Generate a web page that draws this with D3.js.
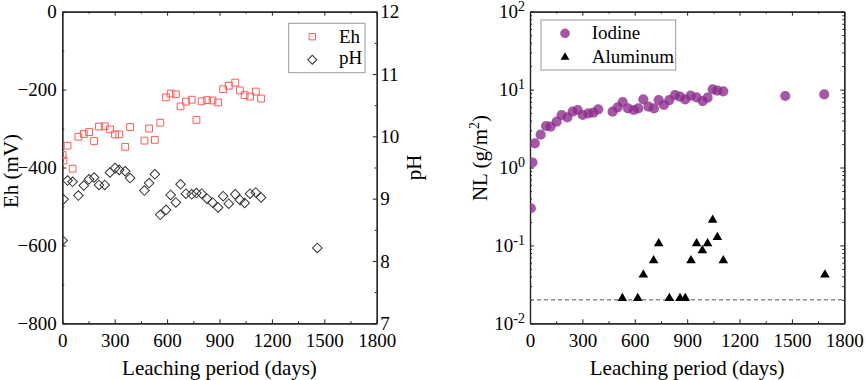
<!DOCTYPE html>
<html>
<head>
<meta charset="utf-8">
<script src="https://d3js.org/d3.v7.min.js"></script>
<style>
  body { margin: 0; background: #fff; }
</style>
</head>
<body>
<div id="chart"></div>
<script>
// ---- data ----
const ehDays = [2, 7, 30, 59, 92, 123, 153, 182, 210, 243, 273, 302, 326, 360, 388, 470, 497, 530, 561,
  594, 620, 650, 677, 708, 741, 768, 798, 829, 860, 892, 921, 953, 990, 1017, 1044, 1075, 1108, 1138];
const ehValues = [-368, -382, -344, -403, -321, -314, -309, -332, -295, -294, -302, -315, -315, -347, -296,
  -331, -300, -329, -285, -220, -210, -212, -243, -231, -226, -278, -230, -227, -228, -233, -199, -190,
  -182, -202, -214, -218, -205, -223];

const phDays = [2, 7, 30, 59, 92, 123, 153, 182, 210, 243, 273, 302, 326, 360, 388, 470, 497, 530, 561,
  594, 620, 650, 677, 708, 741, 768, 798, 829, 860, 892, 921, 953, 990, 1017, 1044, 1075, 1108, 1138, 1460];
const phValues = [8.33, 8.99, 9.29, 9.27, 9.05, 9.21, 9.31, 9.34, 9.22, 9.22, 9.42, 9.49, 9.46, 9.44, 9.33,
  9.13, 9.25, 9.39, 8.74, 8.82, 9.06, 8.94, 9.23, 9.08, 9.07, 9.09, 9.08, 9.0, 8.94, 8.86, 9.04, 8.92,
  9.07, 8.98, 8.93, 9.08, 9.1, 9.02, 8.21];

const iodineDays = [5, 14, 28, 61, 92, 118, 153, 181, 214, 244, 273, 302, 334, 363, 391, 473, 502, 531, 561,
  594, 620, 649, 678, 710, 737, 767, 798, 830, 859, 889, 920, 954, 989, 1017, 1046, 1073, 1107, 1462, 1685];
const iodineValues = [0.30, 1.16, 2.04, 2.64, 3.41, 3.34, 3.87, 4.72, 4.41, 5.21, 5.47, 4.72, 4.96, 5.06,
  5.58, 5.21, 5.92, 6.93, 5.74, 5.47, 5.74, 7.50, 6.04, 5.74, 7.34, 6.34, 7.34, 8.52, 8.11, 7.50, 8.36,
  7.96, 7.13, 7.87, 10.07, 9.68, 9.50, 8.28, 8.69];

const aluminumDays = [529, 617, 649, 708, 737, 798, 859, 889, 922, 954, 987, 1017, 1046, 1073, 1107, 1689];
const aluminumValues = [0.021, 0.021, 0.042, 0.064, 0.106, 0.021, 0.021, 0.021, 0.064, 0.106, 0.086,
  0.106, 0.212, 0.127, 0.064, 0.042];

const detectionLimit = 0.02;

const dayTicks = [0, 300, 600, 900, 1200, 1500, 1800];
const dayMinor = [150, 450, 750, 1050, 1350, 1650];
const ehTicks = [0, -200, -400, -600, -800];
const ehMinor = [-100, -300, -500, -700];
const phTicks = [7, 8, 9, 10, 11, 12];
const phMinor = [7.5, 8.5, 9.5, 10.5, 11.5];
const nlTicks = [0.01, 0.1, 1, 10, 100];

// ---- layout ----
const width = 865, height = 380;
const serif = '"Liberation Serif", "Times New Roman", Times, serif';
const axisColor = '#222';
const plotTop = 11.7, plotBottom = 323.3;
const leftPanel = { x0: 62.3, x1: 376.7 };
const rightPanel = { x0: 530, x1: 844.3 };
const intFmt = d3.format('d');

const svg = d3.create('svg')
  .attr('width', width)
  .attr('height', height)
  .attr('font-family', serif);

// scales
const xLeft = d3.scaleLinear().domain([0, 1800]).range([leftPanel.x0, leftPanel.x1]);
const yEh = d3.scaleLinear().domain([-800, 0]).range([plotBottom, plotTop]);
const yPh = d3.scaleLinear().domain([7, 12]).range([plotBottom, plotTop]);
const xRight = d3.scaleLinear().domain([0, 1800]).range([rightPanel.x0, rightPanel.x1]);
const yNL = d3.scaleLog().domain([0.01, 100]).range([plotBottom, plotTop]);

// helper to draw an axis and style it
function drawAxis(gen, tx, ty, keepLabels) {
  const g = svg.append('g')
    .attr('transform', `translate(${tx},${ty})`)
    .call(gen)
    .attr('font-family', serif)
    .attr('font-size', 19);
  g.select('.domain').attr('stroke', axisColor).attr('stroke-width', 1.2);
  g.selectAll('.tick line').attr('stroke', axisColor).attr('stroke-width', 1);
  g.selectAll('.tick text').attr('fill', '#000');
  if (!keepLabels) g.selectAll('.tick text').remove();
  return g;
}

// ---------- left panel ----------
svg.append('clipPath').attr('id', 'clipL').append('rect')
  .attr('x', leftPanel.x0).attr('y', plotTop)
  .attr('width', leftPanel.x1 - leftPanel.x0).attr('height', plotBottom - plotTop);

drawAxis(d3.axisBottom(xLeft).tickValues(dayTicks).tickFormat(intFmt).tickSizeInner(-4).tickSizeOuter(0).tickPadding(10), 0, plotBottom, true);
drawAxis(d3.axisBottom(xLeft).tickValues(dayMinor).tickSizeInner(-2).tickSizeOuter(0), 0, plotBottom, false);
drawAxis(d3.axisTop(xLeft).tickValues(dayTicks).tickSizeInner(-4).tickSizeOuter(0), 0, plotTop, false);
drawAxis(d3.axisTop(xLeft).tickValues(dayMinor).tickSizeInner(-2).tickSizeOuter(0), 0, plotTop, false);
drawAxis(d3.axisLeft(yEh).tickValues(ehTicks).tickFormat(intFmt).tickSizeInner(-4).tickSizeOuter(0).tickPadding(5.5), leftPanel.x0, 0, true);
drawAxis(d3.axisLeft(yEh).tickValues(ehMinor).tickSizeInner(-2).tickSizeOuter(0), leftPanel.x0, 0, false);
drawAxis(d3.axisRight(yPh).tickValues(phTicks).tickFormat(intFmt).tickSizeInner(-4).tickSizeOuter(0).tickPadding(3.5), leftPanel.x1, 0, true);
drawAxis(d3.axisRight(yPh).tickValues(phMinor).tickSizeInner(-2).tickSizeOuter(0), leftPanel.x1, 0, false);

const squarePath = d3.symbol().type(d3.symbolSquare).size(46)();
const diamondPath = d3.symbol().type(d3.symbolSquare).size(46)();

const gL = svg.append('g').attr('clip-path', 'url(#clipL)');
gL.selectAll('path.eh')
  .data(ehDays.map((d, i) => ({ day: d, v: ehValues[i] })))
  .enter().append('path')
  .attr('class', 'eh')
  .attr('d', squarePath)
  .attr('transform', d => `translate(${xLeft(d.day)},${yEh(d.v)})`)
  .attr('fill', 'none')
  .attr('stroke', '#ff5a5a')
  .attr('stroke-width', 1);

gL.selectAll('path.ph')
  .data(phDays.map((d, i) => ({ day: d, v: phValues[i] })))
  .enter().append('path')
  .attr('class', 'ph')
  .attr('d', diamondPath)
  .attr('transform', d => `translate(${xLeft(d.day)},${yPh(d.v)}) rotate(45)`)
  .attr('fill', 'none')
  .attr('stroke', '#333')
  .attr('stroke-width', 1);

// legend
const legL = svg.append('g').attr('transform', 'translate(288.7,23.3)');
legL.append('rect').attr('width', 76.3).attr('height', 49.4)
  .attr('fill', '#fff').attr('stroke', '#999').attr('stroke-width', 1);
legL.append('path').attr('d', d3.symbol().type(d3.symbolSquare).size(40)())
  .attr('transform', 'translate(23.6,13.4)')
  .attr('fill', 'none').attr('stroke', '#ff5a5a');
legL.append('path').attr('d', d3.symbol().type(d3.symbolSquare).size(40)())
  .attr('transform', 'translate(23.6,36.5) rotate(45)')
  .attr('fill', 'none').attr('stroke', '#333');
legL.append('text').attr('x', 50.3).attr('y', 20).attr('font-size', 19).text('Eh');
legL.append('text').attr('x', 50.3).attr('y', 41).attr('font-size', 19).text('pH');

// titles
svg.append('text')
  .attr('x', (leftPanel.x0 + leftPanel.x1) / 2).attr('y', 375)
  .attr('text-anchor', 'middle').attr('font-size', 21)
  .text('Leaching period (days)');
svg.append('text')
  .attr('transform', 'translate(18,171) rotate(-90)')
  .attr('text-anchor', 'middle').attr('font-size', 21)
  .text('Eh (mV)');
svg.append('text')
  .attr('transform', 'translate(421,167.5) rotate(-90)')
  .attr('text-anchor', 'middle').attr('font-size', 21)
  .text('pH');

// ---------- right panel ----------
svg.append('clipPath').attr('id', 'clipR').append('rect')
  .attr('x', rightPanel.x0).attr('y', plotTop)
  .attr('width', rightPanel.x1 - rightPanel.x0).attr('height', plotBottom - plotTop);

const nlMinor = [];
nlTicks.slice(0, -1).forEach(t => { for (let k = 2; k <= 9; k++) nlMinor.push(t * k); });

drawAxis(d3.axisBottom(xRight).tickValues(dayTicks).tickFormat(intFmt).tickSizeInner(-4).tickSizeOuter(0).tickPadding(10), 0, plotBottom, true);
drawAxis(d3.axisBottom(xRight).tickValues(dayMinor).tickSizeInner(-2).tickSizeOuter(0), 0, plotBottom, false);
drawAxis(d3.axisTop(xRight).tickValues(dayTicks).tickSizeInner(-4).tickSizeOuter(0), 0, plotTop, false);
drawAxis(d3.axisTop(xRight).tickValues(dayMinor).tickSizeInner(-2).tickSizeOuter(0), 0, plotTop, false);
const yAxisR = drawAxis(d3.axisLeft(yNL).tickValues(nlTicks).tickSizeInner(-4).tickSizeOuter(0).tickPadding(5), rightPanel.x0, 0, true);
yAxisR.selectAll('.tick text').each(function (d) {
  const t = d3.select(this).text('10');
  t.append('tspan').attr('dy', -7).attr('font-size', 14).text(Math.round(Math.log10(d)));
});
drawAxis(d3.axisLeft(yNL).tickValues(nlMinor).tickSizeInner(-2).tickSizeOuter(0), rightPanel.x0, 0, false);
drawAxis(d3.axisRight(yNL).tickValues(nlTicks).tickSizeInner(-4).tickSizeOuter(0), rightPanel.x1, 0, false);
drawAxis(d3.axisRight(yNL).tickValues(nlMinor).tickSizeInner(-2).tickSizeOuter(0), rightPanel.x1, 0, false);

// detection limit
svg.append('line')
  .attr('x1', xRight(0)).attr('x2', xRight(1800))
  .attr('y1', yNL(detectionLimit)).attr('y2', yNL(detectionLimit))
  .attr('stroke', '#555').attr('stroke-width', 1).attr('stroke-dasharray', '4,3');

const gR = svg.append('g').attr('clip-path', 'url(#clipR)');
gR.selectAll('circle')
  .data(iodineDays.map((d, i) => ({ day: d, v: iodineValues[i] })))
  .enter().append('circle')
  .attr('cx', d => xRight(d.day))
  .attr('cy', d => yNL(d.v))
  .attr('r', 5.1)
  .attr('fill', '#8c2a8c')
  .attr('fill-opacity', 0.78);

const triPath = d3.symbol().type(d3.symbolTriangle).size(40)();
gR.selectAll('path.al')
  .data(aluminumDays.map((d, i) => ({ day: d, v: aluminumValues[i] })))
  .enter().append('path')
  .attr('class', 'al')
  .attr('d', triPath)
  .attr('transform', d => `translate(${xRight(d.day)},${yNL(d.v)})`)
  .attr('fill', '#000');

// legend
const legR = svg.append('g').attr('transform', 'translate(541,20)');
legR.append('rect').attr('width', 134.7).attr('height', 50)
  .attr('fill', '#fff').attr('stroke', '#999').attr('stroke-width', 1);
legR.append('circle').attr('cx', 24).attr('cy', 13.3).attr('r', 4.8)
  .attr('fill', '#8c2a8c').attr('fill-opacity', 0.78);
legR.append('path').attr('d', d3.symbol().type(d3.symbolTriangle).size(34)())
  .attr('transform', 'translate(24,37.3)').attr('fill', '#000');
legR.append('text').attr('x', 50.7).attr('y', 19.3).attr('font-size', 19).text('Iodine');
legR.append('text').attr('x', 50.7).attr('y', 43.3).attr('font-size', 19).text('Aluminum');

// titles
svg.append('text')
  .attr('x', (rightPanel.x0 + rightPanel.x1) / 2).attr('y', 375)
  .attr('text-anchor', 'middle').attr('font-size', 21)
  .text('Leaching period (days)');
const nlTitle = svg.append('text')
  .attr('transform', 'translate(487,158) rotate(-90)')
  .attr('text-anchor', 'middle').attr('font-size', 21);
nlTitle.append('tspan').text('NL (g/m');
nlTitle.append('tspan').attr('dy', -8).attr('font-size', 14).text('2');
nlTitle.append('tspan').attr('dy', 8).text(')');

document.getElementById('chart').appendChild(svg.node());
</script>
</body>
</html>
